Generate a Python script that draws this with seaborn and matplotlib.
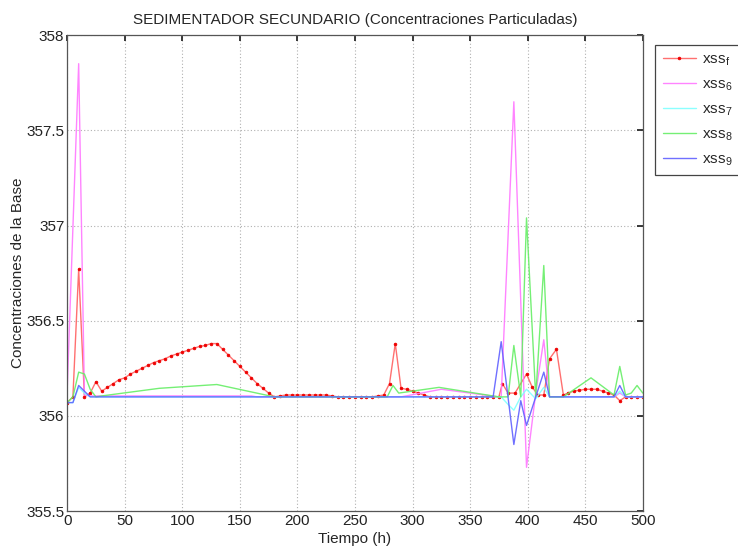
import numpy as np
import pandas as pd
import matplotlib
matplotlib.use("Agg")
import matplotlib.pyplot as plt
import seaborn as sns

# Sample times (h) and particulate concentrations for each stream
t_f = np.concatenate([np.arange(0, 376, 5), [378, 383, 389, 399, 404, 409, 414, 419, 425, 431],
                      np.arange(435, 501, 5)])
xss_f = [356.07, 356.10, 356.77, 356.10, 356.12, 356.18, 356.13, 356.15, 356.17, 356.19,
         356.20, 356.22, 356.235, 356.25, 356.265, 356.28, 356.29, 356.30, 356.315, 356.325,
         356.335, 356.345, 356.355, 356.365, 356.37, 356.38, 356.38, 356.35, 356.32, 356.29,
         356.26, 356.23, 356.20, 356.17, 356.145, 356.12, 356.10, 356.105, 356.11, 356.11,
         356.11, 356.11, 356.11, 356.11, 356.11, 356.11, 356.105, 356.10, 356.10, 356.10,
         356.10, 356.10, 356.10, 356.10, 356.105, 356.11, 356.17, 356.38, 356.145, 356.14,
         356.13, 356.12, 356.11, 356.10, 356.10, 356.10, 356.10, 356.10, 356.10, 356.10,
         356.10, 356.10, 356.10, 356.10, 356.10, 356.10,
         356.17, 356.12, 356.12, 356.22, 356.15, 356.11, 356.11, 356.30, 356.35, 356.11,
         356.12, 356.13, 356.135, 356.14, 356.14, 356.14, 356.13, 356.12, 356.11, 356.08,
         356.10, 356.10, 356.10, 356.10]

t_6 = [0, 10, 15, 20, 160, 165, 290, 325, 375, 377, 388, 399, 407, 414, 419, 475, 480, 485, 500]
xss_6 = [356.13, 357.85, 356.11, 356.105, 356.105, 356.10, 356.10, 356.14, 356.10, 356.10,
         357.65, 355.73, 356.12, 356.40, 356.10, 356.10, 356.12, 356.10, 356.10]

t_7 = [0, 5, 10, 15, 20, 375, 377, 383, 388, 394, 399, 407, 414, 419, 475, 480, 485, 500]
xss_7 = [356.07, 356.07, 356.15, 356.12, 356.10, 356.10, 356.10, 356.06, 356.03, 356.10,
         356.14, 356.09, 356.15, 356.10, 356.10, 356.13, 356.10, 356.10]

t_8 = [0, 5, 10, 15, 20, 25, 30, 80, 130, 180, 278, 283, 288, 323, 375, 383, 388, 394, 399,
       407, 414, 419, 431, 455, 475, 480, 485, 490, 495, 500]
xss_8 = [356.07, 356.10, 356.23, 356.22, 356.14, 356.10, 356.105, 356.145, 356.165, 356.10,
         356.10, 356.16, 356.12, 356.15, 356.10, 356.10, 356.37, 356.10, 357.04, 356.10,
         356.79, 356.10, 356.10, 356.20, 356.11, 356.26, 356.11, 356.12, 356.16, 356.12]

t_9 = [0, 5, 10, 15, 20, 370, 377, 388, 394, 399, 407, 414, 419, 475, 480, 485, 500]
xss_9 = [356.07, 356.07, 356.16, 356.13, 356.10, 356.10, 356.39, 355.85, 356.08, 355.95,
         356.10, 356.23, 356.10, 356.10, 356.16, 356.10, 356.10]

labels = ["xss$_{f}$", "xss$_{6}$", "xss$_{7}$", "xss$_{8}$", "xss$_{9}$"]
colors = ["#ff7070", "#ff77ff", "#80ffff", "#66ee66", "#6060ff"]

x_ticks = [0, 50, 100, 150, 200, 250, 300, 350, 400, 450, 500]
y_ticks = [355.5, 356, 356.5, 357, 357.5, 358]
y_tick_labels = ["355.5", "356", "356.5", "357", "357.5", "358"]

sns.set_theme(style="white")
plt.rcParams["font.family"] = ["Liberation Sans", "DejaVu Sans"]
plt.rcParams["mathtext.default"] = "regular"

fig = plt.figure(figsize=(7.38, 5.49), dpi=100)
ax = fig.add_axes([0.091, 0.069, 0.780, 0.867])

series = [(t_f, xss_f), (t_6, xss_6), (t_7, xss_7), (t_8, xss_8), (t_9, xss_9)]
for i, ((tt, vv), lab, col) in enumerate(zip(series, labels, colors)):
    df = pd.DataFrame({"Tiempo": tt, "valor": vv})
    if i == 0:
        sns.lineplot(data=df, x="Tiempo", y="valor", ax=ax, color=col, lw=1.0, label=lab,
                     marker="o", markersize=2.0, markerfacecolor="#ee0000",
                     markeredgecolor="#ee0000", markeredgewidth=0.5,
                     sort=False, estimator=None)
    else:
        sns.lineplot(data=df, x="Tiempo", y="valor", ax=ax, color=col, lw=1.0, label=lab,
                     sort=False, estimator=None, alpha=0.9)

ax.set_xlim(0, 500)
ax.set_ylim(355.5, 358)
ax.set_xticks(x_ticks)
ax.set_xticklabels([str(v) for v in x_ticks])
ax.set_yticks(y_ticks)
ax.set_yticklabels(y_tick_labels)
ax.grid(True, linestyle=(0, (1, 2)), color="#b0b0b0", linewidth=0.8)
ax.tick_params(direction="in", length=4, top=True, right=True, labelsize=11,
               colors="#222222", pad=2)
for sp in ax.spines.values():
    sp.set_color("#555555")
    sp.set_linewidth(0.9)

ax.set_xlabel("Tiempo (h)", fontsize=11, labelpad=3)
ax.set_ylabel("Concentraciones de la Base", fontsize=11, labelpad=1)
ax.set_title("SEDIMENTADOR SECUNDARIO (Concentraciones Particuladas)", fontsize=11, pad=8)

handles, labs = ax.get_legend_handles_labels()
ax.legend_.remove()
leg = fig.legend(handles, labs, loc="upper left", bbox_to_anchor=(0.8875, 0.918),
                 fancybox=False, edgecolor="#444444", fontsize=11, handlelength=2.2,
                 handletextpad=0.35, borderpad=0.5, borderaxespad=0.0,
                 labelspacing=0.62, framealpha=1)
leg.get_frame().set_linewidth(0.9)

fig.savefig("out.png", dpi=100)
